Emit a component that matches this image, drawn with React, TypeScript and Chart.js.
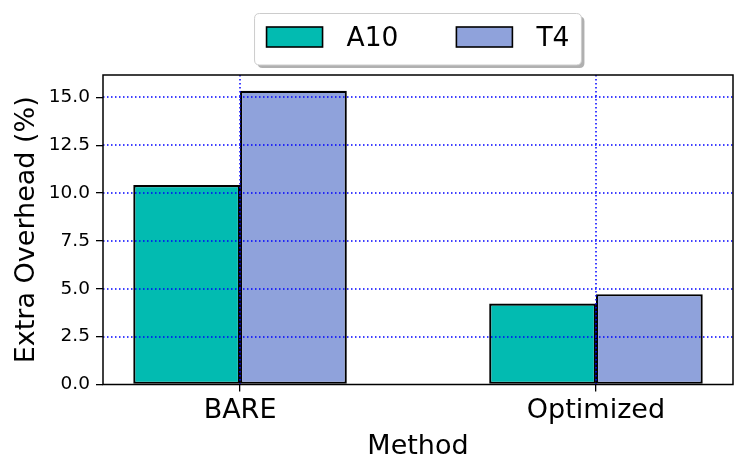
import React, { useEffect, useRef } from "react";
import { Chart, registerables } from "chart.js";

Chart.register(...registerables);

const categories = ["BARE", "Optimized"];
const seriesNames = ["A10", "T4"];
const a10Values = [10.42, 4.23];
const t4Values = [15.35, 4.72];
const yTickValues = [0, 2.5, 5, 7.5, 10, 12.5, 15];
const xTickValues = [0, 1];
const colors = ["#02bbb1", "#8fa2db"];

const FONT = '"DejaVu Sans", "Liberation Sans", sans-serif';

const overlayPlugin = {
  id: "overlay",
  afterDatasetsDraw(chart: any) {
    const { ctx, chartArea: a, scales } = chart;
    const x = scales.x;
    const y = scales.y;
    ctx.save();
    ctx.strokeStyle = "#0000ff";
    ctx.lineWidth = 1.5;
    ctx.setLineDash([1.5, 2.5]);
    yTickValues.forEach((v) => {
      if (v === 0) return;
      const py = Math.round(y.getPixelForValue(v));
      ctx.beginPath();
      ctx.moveTo(a.left, py);
      ctx.lineTo(a.right, py);
      ctx.stroke();
    });
    xTickValues.forEach((v) => {
      const px = Math.round(x.getPixelForValue(v));
      ctx.beginPath();
      ctx.moveTo(px, a.top);
      ctx.lineTo(px, a.bottom);
      ctx.stroke();
    });
    ctx.setLineDash([]);
    ctx.strokeStyle = "#000";
    ctx.lineWidth = 1.5;
    ctx.strokeRect(a.left, a.top, a.right - a.left, a.bottom - a.top);
    ctx.restore();
  },
  afterDraw(chart: any) {
    const { ctx, chartArea: a } = chart;
    ctx.save();
    ctx.font = `26.5px ${FONT}`;
    const ds = chart.data.datasets;
    const patchW = 56;
    const patchH = 20;
    const gapText = 24;
    const gapItem = 58;
    const pad = 12;
    const widths = ds.map((d: any) => ctx.measureText(d.label).width);
    let total = pad * 2;
    widths.forEach((w: number, i: number) => {
      total += patchW + gapText + w + (i < widths.length - 1 ? gapItem : 0);
    });
    const cx = (a.left + a.right) / 2;
    const fx = cx - total / 2;
    const fy = 13.5;
    const fh = 51.5;
    const r = 5;
    const rr = (x0: number, y0: number, w: number, h: number) => {
      ctx.beginPath();
      ctx.moveTo(x0 + r, y0);
      ctx.lineTo(x0 + w - r, y0);
      ctx.quadraticCurveTo(x0 + w, y0, x0 + w, y0 + r);
      ctx.lineTo(x0 + w, y0 + h - r);
      ctx.quadraticCurveTo(x0 + w, y0 + h, x0 + w - r, y0 + h);
      ctx.lineTo(x0 + r, y0 + h);
      ctx.quadraticCurveTo(x0, y0 + h, x0, y0 + h - r);
      ctx.lineTo(x0, y0 + r);
      ctx.quadraticCurveTo(x0, y0, x0 + r, y0);
      ctx.closePath();
    };
    rr(fx + 3, fy + 3, total, fh);
    ctx.fillStyle = "#b0b0b0";
    ctx.fill();
    rr(fx, fy, total, fh);
    ctx.fillStyle = "#ffffff";
    ctx.fill();
    ctx.strokeStyle = "#cccccc";
    ctx.lineWidth = 1;
    ctx.stroke();
    let px = fx + pad;
    ds.forEach((d: any, i: number) => {
      ctx.fillStyle = d.backgroundColor;
      ctx.fillRect(px, fy + 13.5, patchW, patchH);
      ctx.strokeStyle = "#000";
      ctx.lineWidth = 1.6;
      ctx.strokeRect(px, fy + 13.5, patchW, patchH);
      ctx.fillStyle = "#000";
      ctx.textBaseline = "alphabetic";
      ctx.textAlign = "left";
      ctx.fillText(d.label, px + patchW + gapText, fy + 32.5);
      px += patchW + gapText + widths[i] + gapItem;
    });
    ctx.restore();
  },
};

export default function App() {
  const ref = useRef<HTMLCanvasElement | null>(null);
  useEffect(() => {
    document.body.style.margin = "0";
    const canvas = ref.current!;
    const seriesValues = [a10Values, t4Values];
    const chart = new Chart(canvas, {
      type: "bar",
      data: {
        datasets: seriesNames.map((name, si) => ({
          label: name,
          data: categories.map((_, i) => ({ x: i, y: seriesValues[si][i] })),
          backgroundColor: colors[si],
          borderColor: "#000",
          borderWidth: 2.2,
          borderSkipped: false,
          categoryPercentage: 0.6,
          barPercentage: 1.0,
        })),
      },
      options: {
        animation: false,
        responsive: false,
        devicePixelRatio: 1,
        layout: { padding: { left: 0, right: 14, top: 75, bottom: 0 } },
        plugins: { legend: { display: false }, tooltip: { enabled: false } },
        scales: {
          x: {
            type: "linear",
            offset: false,
            min: -0.385,
            max: 1.385,
            afterFit: (s: any) => {
              s.height = 87.5;
            },
            afterBuildTicks: (s: any) => {
              s.ticks = xTickValues.map((v) => ({ value: v }));
            },
            grid: {
              offset: false,
              drawOnChartArea: false,
              drawTicks: true,
              tickLength: 7,
              color: "#000",
              lineWidth: 1.3,
            },
            border: { display: false },
            ticks: {
              color: "#000",
              font: { family: FONT, size: 27 },
              padding: 3,
              maxRotation: 0,
              autoSkip: false,
              callback: (v: any) => categories[v as number] ?? "",
            },
            title: {
              display: true,
              text: "Method",
              color: "#000",
              font: { family: FONT, size: 27 },
              padding: { top: 0, bottom: 9 },
            },
          },
          y: {
            min: 0,
            max: 16.17,
            afterFit: (s: any) => {
              s.width = 103;
            },
            afterBuildTicks: (s: any) => {
              s.ticks = yTickValues.map((v) => ({ value: v }));
            },
            grid: {
              drawOnChartArea: false,
              drawTicks: true,
              tickLength: 7,
              color: "#000",
              lineWidth: 1.3,
            },
            border: { display: false },
            ticks: {
              color: "#000",
              font: { family: FONT, size: 18.5 },
              padding: 6,
              callback: (v: any) => Number(v).toFixed(1),
            },
            title: {
              display: true,
              text: "Extra Overhead (%)",
              color: "#000",
              font: { family: FONT, size: 27 },
              padding: { top: 11, bottom: 0 },
            },
          },
        },
      },
      plugins: [overlayPlugin],
    });
    return () => chart.destroy();
  }, []);
  return (
    <div style={{ position: "absolute", left: 0, top: 0, width: 747, height: 472 }}>
      <canvas ref={ref} width={747} height={472} />
    </div>
  );
}
